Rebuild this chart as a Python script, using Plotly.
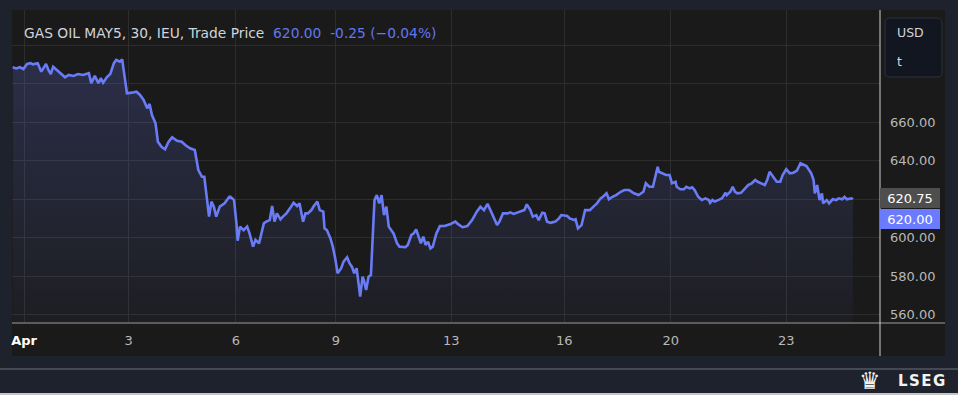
import plotly.graph_objects as go

# ---------------- data ----------------
# 30-minute bar index (trading-session time) and trade price
bars = [0, 3, 6, 9, 12, 15, 17, 21, 24, 26, 28, 30, 32, 34, 37, 40, 44, 47, 51, 55,
        59, 64, 66, 69, 72, 74, 76, 79, 82, 85, 87, 90, 92, 94, 96, 100, 104, 107, 110, 113,
        115, 117, 120, 122, 125, 128, 131, 134, 138, 142, 145, 149, 153, 156, 159, 161, 163, 165, 167, 169,
        171, 174, 178, 182, 183, 186, 188, 189, 191, 194, 197, 199, 202, 204, 207, 211, 213, 216, 218, 220,
        222, 225, 227, 230, 233, 236, 239, 241, 244, 246, 248, 251, 253, 256, 258, 261, 262, 264, 267, 269,
        271, 273, 276, 278, 281, 283, 285, 287, 289, 291, 292, 294, 295, 297, 299, 301, 303, 304, 306, 308,
        310, 312, 314, 316, 318, 320, 323, 325, 330, 332, 335, 337, 339, 341, 343, 345, 347, 349, 351, 353,
        356, 359, 363, 368, 372, 374, 378, 382, 386, 390, 393, 396, 399, 402, 404, 407, 409, 412, 416, 418,
        421, 424, 427, 430, 432, 435, 437, 440, 442, 445, 447, 449, 452, 456, 459, 461, 466, 468, 472, 473,
        475, 478, 481, 485, 488, 491, 494, 496, 499, 501, 504, 507, 511, 514, 518, 522, 526, 530, 532, 535,
        538, 540, 542, 543, 546, 549, 552, 554, 557, 558, 561, 564, 566, 569, 571, 573, 576, 579, 582, 585,
        586, 588, 590, 593, 596, 599, 600, 603, 605, 607, 609, 612, 615, 618, 621, 624, 626, 629, 632, 634,
        636, 639, 642, 645, 647, 650, 653, 656, 659, 662, 664, 667, 671, 673, 674, 676, 678, 680, 681, 684,
        686, 689, 692, 694, 697, 699, 701, 705, 706]
prices = [688.6, 688.0, 688.6, 687.7, 690.3, 690.7, 690.1, 690.7, 686.3, 688.0, 690.3, 687.2, 685.1, 688.9, 687.2, 685.5, 683.4, 684.6, 684.1, 685.1,
          684.6, 685.5, 680.3, 684.1, 680.3, 682.9, 680.6, 683.4, 685.1, 690.7, 692.4, 691.5, 692.7, 683.7, 675.1, 675.4, 675.9, 674.2, 671.6, 667.3,
          669.5, 663.8, 659.5, 649.9, 647.3, 646.0, 649.9, 652.2, 650.4, 649.9, 648.2, 646.5, 645.6, 635.2, 631.7, 631.7, 621.3, 611.0, 618.8, 616.2,
          611.0, 616.2, 617.9, 621.3, 621.3, 619.6, 607.5, 598.5, 605.8, 604.0, 605.8, 602.3, 595.4, 598.9, 597.1, 607.5, 608.4, 609.2, 616.5, 608.4,
          612.7, 609.6, 611.0, 612.7, 615.3, 618.2, 616.5, 617.9, 608.4, 612.7, 612.7, 614.4, 616.5, 618.8, 614.4, 613.6, 604.9, 604.0, 599.7, 595.4,
          589.3, 581.6, 584.2, 587.6, 589.9, 586.8, 585.0, 581.6, 584.2, 574.6, 569.4, 579.8, 578.1, 572.9, 579.8, 580.7, 602.3, 619.6, 622.2, 617.9,
          622.2, 611.8, 616.2, 605.8, 604.0, 602.3, 597.1, 595.4, 595.1, 596.3, 601.5, 602.3, 604.4, 600.6, 597.1, 600.6, 596.3, 598.0, 594.5, 595.4,
          602.3, 606.1, 606.1, 607.2, 608.4, 607.2, 605.5, 606.1, 609.2, 613.6, 616.2, 614.4, 617.6, 613.6, 611.0, 606.6, 608.4, 612.7, 612.7, 613.2,
          612.4, 613.0, 613.6, 614.4, 617.4, 614.4, 611.0, 611.8, 609.2, 613.0, 612.7, 608.4, 607.8, 608.4, 610.1, 611.8, 611.3, 610.1, 609.2, 609.6,
          604.9, 606.6, 614.4, 614.4, 616.2, 617.9, 620.5, 621.3, 623.1, 620.0, 621.3, 622.2, 623.9, 624.8, 624.8, 623.1, 622.2, 623.9, 628.3, 626.5,
          626.5, 632.6, 636.9, 634.3, 633.5, 632.6, 632.6, 628.3, 629.1, 626.5, 625.2, 625.2, 626.5, 625.7, 626.2, 624.8, 621.3, 619.6, 620.5, 619.6,
          618.2, 619.6, 618.8, 619.6, 620.5, 623.4, 622.2, 623.9, 626.5, 623.9, 623.1, 623.4, 625.2, 627.4, 628.3, 630.0, 629.1, 628.3, 627.4, 630.0,
          634.3, 631.7, 629.1, 629.1, 632.6, 635.6, 633.5, 633.8, 634.9, 638.7, 638.3, 637.3, 633.5, 630.0, 623.1, 627.4, 619.6, 623.1, 617.9, 619.6,
          617.9, 620.0, 619.6, 620.5, 620.0, 621.3, 620.0, 620.5, 620.0]

# session starts used as x-axis ticks (bar index) and their labels
tick_bars = [9.5, 97.5, 187.5, 271.5, 368.5, 463.5, 553, 650]
tick_labels = ["Apr", "3", "6", "9", "13", "16", "20", "23"]

# gridline levels; labels hidden where the reference covers them (620 by price tags, 680/700 by the unit box)
price_ticks = [560, 580, 600, 620, 640, 660, 680, 700]
price_tick_labels = ["560.00", "580.00", "600.00", "", "640.00", "660.00", "", ""]

title_text = "GAS OIL MAY5, 30, IEU, Trade Price"
last_price = 620.00
change_text = "-0.25 (\u22120.04%)"
marker_price = 620.75
currency = "USD"
unit = "t"
brand = "LSEG"

# ---------------- style ----------------
W, H = 958, 395
PL, PR, PT, PB = 12, 880, 10, 323   # plot area in pixels
NAVY = "#1e222d"
PANEL = "#1a1a1a"
GRID = "#2d2d2d"
LINE = "#6a7cf5"
TEXT = "#d1d4dc"
TICK = "#b8b8b8"
FONT = "DejaVu Sans"


def px(x):
    return (x - PL) / (PR - PL)


def py(y):
    return (PB - y) / (PB - PT)


def rounded_rect(x0, y0, x1, y1, r):
    pts = [
        f"M {px(x0 + r)},{py(y0)}",
        f"L {px(x1 - r)},{py(y0)}",
        f"Q {px(x1)},{py(y0)} {px(x1)},{py(y0 + r)}",
        f"L {px(x1)},{py(y1 - r)}",
        f"Q {px(x1)},{py(y1)} {px(x1 - r)},{py(y1)}",
        f"L {px(x0 + r)},{py(y1)}",
        f"Q {px(x0)},{py(y1)} {px(x0)},{py(y1 - r)}",
        f"L {px(x0)},{py(y0 + r)}",
        f"Q {px(x0)},{py(y0)} {px(x0 + r)},{py(y0)}",
        "Z",
    ]
    return " ".join(pts)


fig = go.Figure()
fig.add_trace(go.Scatter(
    x=bars, y=prices, mode="lines",
    line=dict(color=LINE, width=2.6),
    fill="tozeroy",
    fillgradient=dict(type="vertical",
                      colorscale=[[0, "rgba(106,124,245,0.04)"], [1, "rgba(106,124,245,0.21)"]],
                      start=556, stop=693),
    hoverinfo="skip", showlegend=False,
))

tick_text = []
for t in tick_labels:
    if t == "Apr":
        tick_text.append("<span style='color:#ffffff'><b>Apr</b></span>")
    else:
        tick_text.append(t)

y_lo = 660 - (PB - 122.3) / 1.925
y_hi = 660 + (122.3 - PT) / 1.925

shapes = [
    # dark chart panel
    dict(type="rect", xref="paper", yref="paper", x0=px(PL), x1=px(945), y0=py(356), y1=py(PT),
         fillcolor=PANEL, line=dict(width=0), layer="below"),
    # x-axis separator line
    dict(type="line", xref="paper", yref="paper", x0=px(PL), x1=px(945), y0=py(PB), y1=py(PB),
         line=dict(color="#5c5c5c", width=2)),
    # price-scale separator line
    dict(type="line", xref="paper", yref="paper", x0=px(PR), x1=px(PR), y0=py(356), y1=py(PT),
         line=dict(color="#cfcfcf", width=1)),
    # footer line
    dict(type="line", xref="paper", yref="paper", x0=px(0), x1=px(W), y0=py(369), y1=py(369),
         line=dict(color="#6b707c", width=1)),
    dict(type="rect", xref="paper", yref="paper", x0=px(0), x1=px(W), y0=py(395), y1=py(393),
         fillcolor="#c4c4c4", line=dict(width=0)),
    # currency box
    dict(type="path", xref="paper", yref="paper", path=rounded_rect(885, 18, 942, 77, 5),
         fillcolor="#121620", line=dict(color="#2c313c", width=1)),
]

annotations = [
    dict(xref="paper", yref="paper", x=px(22), y=py(33), xanchor="left", yanchor="middle",
         showarrow=False, font=dict(family=FONT, size=13.8, color=TEXT),
         text=f"{title_text}&nbsp;&nbsp;<span style='color:#6276ee'>{last_price:.2f}&nbsp;&nbsp;{change_text}</span>"),
    dict(xref="paper", yref="paper", x=px(895), y=py(33), xanchor="left", yanchor="middle",
         showarrow=False, font=dict(family=FONT, size=12.5, color=TEXT), text=currency),
    dict(xref="paper", yref="paper", x=px(895), y=py(61), xanchor="left", yanchor="middle",
         showarrow=False, font=dict(family=FONT, size=12.5, color=TEXT), text=unit),
    dict(xref="paper", yref="y", x=1.0, y=marker_price, xanchor="left", yanchor="middle",
         showarrow=False, bgcolor="#4e4e4e", borderwidth=0, borderpad=2, width=56, height=16,
         align="center", font=dict(family=FONT, size=13, color="#ffffff"), text=f"{marker_price:.2f}"),
    dict(xref="paper", yref="y", x=1.0, y=last_price, yshift=-19.3, xanchor="left", yanchor="middle",
         showarrow=False, bgcolor="#6a7bff", borderwidth=0, borderpad=2, width=56, height=16,
         align="center", font=dict(family=FONT, size=13, color="#ffffff"), text=f"{last_price:.2f}"),
    dict(xref="paper", yref="paper", x=px(870), y=py(381), xanchor="center", yanchor="middle",
         showarrow=False, font=dict(family="DejaVu Sans", size=24, color="#f2f2f2"), text="\u265b"),
    dict(xref="paper", yref="paper", x=px(921), y=py(381), xanchor="center", yanchor="middle",
         showarrow=False, font=dict(family=FONT, size=15, color="#f2f2f2"),
         text="<b>" + "\u200a".join(brand) + "</b>"),
]

fig.update_layout(
    width=W, height=H,
    margin=dict(l=PL, r=W - PR, t=PT, b=H - PB, pad=0),
    paper_bgcolor=NAVY, plot_bgcolor=PANEL,
    showlegend=False,
    xaxis=dict(range=[-0.6, 728.8], tickvals=tick_bars, ticktext=tick_text,
               showgrid=True, gridcolor=GRID, gridwidth=1, zeroline=False, showline=False,
               ticks="", ticklabelstandoff=8, tickfont=dict(family=FONT, size=13, color=TICK),
               fixedrange=True),
    yaxis=dict(range=[y_lo, y_hi], side="right", tickvals=price_ticks, ticktext=price_tick_labels,
               showgrid=True, gridcolor=GRID, gridwidth=1, zeroline=False, showline=False,
               ticks="", ticklabelstandoff=9, tickfont=dict(family=FONT, size=13, color=TICK),
               fixedrange=True),
    shapes=shapes, annotations=annotations,
)

fig.write_html(
    "out.html",
    config={"displayModeBar": False},
    post_script="document.body.style.margin='0';document.body.style.overflow='hidden';",
)
